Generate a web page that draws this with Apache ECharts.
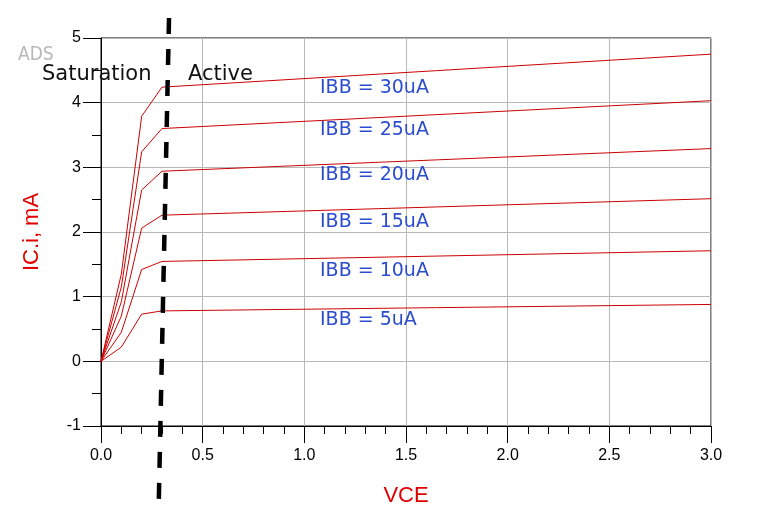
<!DOCTYPE html>
<html>
<head>
<meta charset="utf-8">
<script src="https://cdn.jsdelivr.net/npm/echarts@6/dist/echarts.min.js"></script>
<style>html,body{margin:0;padding:0;background:#fff;}#c{width:782px;height:527px;}</style>
</head>
<body>
<div id="c"></div>
<script>
// Data
const vce = [0, 0.1, 0.2, 0.3, 3.0];
const ic5  = [0, 0.22, 0.73, 0.78, 0.88];
const ic10 = [0, 0.45, 1.42, 1.545, 1.71];
const ic15 = [0, 0.70, 2.06, 2.26, 2.515];
const ic20 = [0, 0.92, 2.65, 2.94, 3.29];
const ic25 = [0, 1.15, 3.24, 3.60, 4.03];
const ic30 = [0, 1.35, 3.79, 4.24, 4.75];
const curveNames = ['IBB = 5uA', 'IBB = 10uA', 'IBB = 15uA', 'IBB = 20uA', 'IBB = 25uA', 'IBB = 30uA'];
const boundaryVce = [0.3345, 0.2844];
const boundaryIc = [5.31, -2.14];
const regionNames = ['Saturation', 'Active'];

const curves = [ic5, ic10, ic15, ic20, ic25, ic30];
const pair = (xs, ys) => xs.map((x, i) => [x, ys[i]]);

const chart = echarts.init(document.getElementById('c'));

const series = curves.map((ys, i) => ({
  name: curveNames[i],
  type: 'line',
  data: pair(vce, ys),
  showSymbol: false,
  symbol: 'none',
  lineStyle: { color: '#cc0000', width: 1 },
  animation: false,
  z: 2
}));
series.push({
  type: 'line',
  data: pair(boundaryVce, boundaryIc),
  clip: false,
  symbol: 'none',
  lineStyle: { color: '#000', width: 4.5, type: [16, 15], cap: 'butt' },
  animation: false,
  z: 5
});

// label rows (pixel placement of the annotations)
const labelY = [320, 271, 222, 175, 130, 88];
const graphics = curveNames.map((t, i) => ({
  type: 'text', x: 320, y: labelY[i],
  style: { text: t, fill: '#2b4ccf', font: '19px "DejaVu Sans", sans-serif', textVerticalAlign: 'middle' },
  z: 10
}));
graphics.push({
  type: 'text', x: 42, y: 75,
  style: { text: regionNames[0], fill: '#111', font: '21px "DejaVu Sans", sans-serif', textVerticalAlign: 'middle' }, z: 10
});
graphics.push({
  type: 'text', x: 188, y: 75,
  style: { text: regionNames[1], fill: '#111', font: '21px "DejaVu Sans", sans-serif', textVerticalAlign: 'middle' }, z: 10
});
graphics.push({
  type: 'text', x: 18, y: 55,
  style: { text: 'ADS', fill: '#b8b8b8', font: '19px "Liberation Sans Narrow", "DejaVu Sans Condensed", sans-serif',
           textVerticalAlign: 'middle',
           textShadowColor: '#6a6a6a', textShadowOffsetX: 1, textShadowOffsetY: 1, textShadowBlur: 0 }, z: 10
});

chart.setOption({
  animation: false,
  grid: { left: 101, right: 71, top: 38, bottom: 101, show: true, borderColor: '#000', borderWidth: 1, backgroundColor: 'transparent' },
  xAxis: {
    type: 'value', min: 0, max: 3, interval: 0.5,
    name: 'VCE', nameLocation: 'middle', nameGap: 59,
    nameTextStyle: { color: '#e00000', fontSize: 22, fontFamily: 'Liberation Sans' },
    axisLine: { onZero: false, lineStyle: { color: '#000', width: 1 } },
    axisTick: { show: true, length: 17, lineStyle: { color: '#000' } },
    minorTick: { show: true, splitNumber: 5, length: 8, lineStyle: { color: '#000' } },
    splitLine: { show: true, lineStyle: { color: '#b8b8b8', width: 1 } },
    axisLabel: { color: '#000', fontSize: 16, fontFamily: 'Liberation Sans', margin: 22, formatter: v => v.toFixed(1) }
  },
  yAxis: {
    type: 'value', min: -1, max: 5, interval: 1,
    name: 'IC.i, mA', nameLocation: 'middle', nameGap: 58, nameRotate: 90,
    nameTextStyle: { color: '#e00000', fontSize: 22, fontFamily: 'Liberation Sans' },
    axisLine: { show: true, onZero: false, lineStyle: { color: '#000', width: 1 } },
    axisTick: { show: true, length: 18, lineStyle: { color: '#000' } },
    minorTick: { show: true, splitNumber: 2, length: 9, lineStyle: { color: '#000' } },
    splitLine: { show: true, lineStyle: { color: '#b8b8b8', width: 1 } },
    axisLabel: { color: '#000', fontSize: 16, fontFamily: 'Liberation Sans', margin: 20 }
  },
  graphic: graphics,
  series: series
});
</script>
</body>
</html>
